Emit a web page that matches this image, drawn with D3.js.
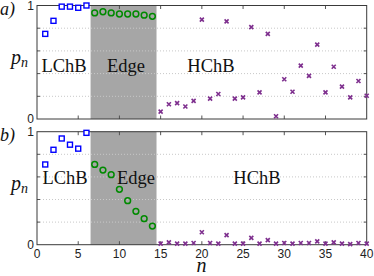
<!DOCTYPE html>
<html>
<head>
<meta charset="utf-8">
<script src="https://cdn.jsdelivr.net/npm/d3@7"></script>
<style>
body { margin: 0; background: #fff; }
svg { display: block; }
</style>
</head>
<body>
<script>
// site index n for each group
var nLChB = [1, 2, 3, 4, 5, 6];
var nEdge = [7, 8, 9, 10, 11, 12, 13, 14];
var nHChB = [15, 16, 17, 18, 19, 20, 21, 22, 23, 24, 25, 26, 27, 28, 29, 30, 31, 32, 33, 34, 35, 36, 37, 38, 39, 40];

// panel a) values p_n
var aLChB = [0.75, 0.865, 0.99, 0.99, 0.98, 1.0];
var aEdge = [0.935, 0.945, 0.935, 0.925, 0.925, 0.925, 0.915, 0.905];
var aHChB = [0.065, 0.13, 0.14, 0.11, 0.16, 0.875, 0.18, 0.22, 0.86, 0.18, 0.19, 0.81, 0.235, 0.75, 0.024, 0.35, 0.24, 0.47, 0.38, 0.655, 0.235, 0.46, 0.285, 0.19, 0.335, 0.205];

// panel b) values p_n
var bLChB = [0.71, 0.84, 0.94, 0.885, 0.85, 0.99];
var bEdge = [0.71, 0.66, 0.62, 0.49, 0.39, 0.295, 0.23, 0.165];
var bHChB = [0.01, 0.02, 0.01, 0.01, 0.015, 0.11, 0.015, 0.01, 0.085, 0.01, 0.01, 0.06, 0.01, 0.04, 0.01, 0.015, 0.01, 0.015, 0.015, 0.03, 0.01, 0.02, 0.01, 0.005, 0.015, 0.01];

var xTicks = [0, 5, 10, 15, 20, 25, 30, 35, 40];
var gridTicks = [0.2, 0.4, 0.6, 0.8];
var edgeBand = [6.5, 14.5];

var W = 374, H = 276;
var svg = d3.select('body').append('svg').attr('width', W).attr('height', H);

var x = d3.scaleLinear().domain([0, 40]).range([37, 366.7]);

var serif = "'Liberation Serif'";
var sans = "'Liberation Sans'";

function panel(top, bottom, label, lchb, edge, hchb, showX, txtY, pY, labs) {
  var y = d3.scaleLinear().domain([0, 1]).range([bottom, top]);
  var g = svg.append('g');

  // shaded edge band
  g.append('rect')
    .attr('x', x(edgeBand[0])).attr('y', y(1))
    .attr('width', x(edgeBand[1]) - x(edgeBand[0]))
    .attr('height', y(0) - y(1))
    .attr('fill', '#a6a6a6');

  // dotted grid
  g.selectAll('.grid').data(gridTicks).enter().append('line')
    .attr('x1', x(0)).attr('x2', x(40))
    .attr('y1', function(d) { return y(d); })
    .attr('y2', function(d) { return y(d); })
    .attr('stroke', '#c8c8c8').attr('stroke-width', 1)
    .attr('stroke-dasharray', '1,2');

  // ticks inside on bottom / top / left / right
  var inner = xTicks.slice(1, -1);
  g.selectAll('.tb').data(inner).enter().append('line')
    .attr('x1', function(d) { return x(d); }).attr('x2', function(d) { return x(d); })
    .attr('y1', y(0)).attr('y2', y(0) - 3.5)
    .attr('stroke', '#555');
  g.selectAll('.tt').data(inner).enter().append('line')
    .attr('x1', function(d) { return x(d); }).attr('x2', function(d) { return x(d); })
    .attr('y1', y(1)).attr('y2', y(1) + 3.5)
    .attr('stroke', '#555');
  g.selectAll('.tl').data(gridTicks).enter().append('line')
    .attr('x1', x(0)).attr('x2', x(0) + 3)
    .attr('y1', function(d) { return y(d); }).attr('y2', function(d) { return y(d); })
    .attr('stroke', '#555');
  g.selectAll('.tr').data(gridTicks).enter().append('line')
    .attr('x1', x(40)).attr('x2', x(40) - 3)
    .attr('y1', function(d) { return y(d); }).attr('y2', function(d) { return y(d); })
    .attr('stroke', '#555');

  // box
  g.append('rect')
    .attr('x', x(0)).attr('y', y(1))
    .attr('width', x(40) - x(0)).attr('height', y(0) - y(1))
    .attr('fill', 'none').attr('stroke', '#3a3a3a').attr('stroke-width', 1);

  // y tick labels
  g.selectAll('.yl').data([0, 1]).enter().append('text')
    .style('font-family', sans)
    .attr('x', x(0) - 3).attr('y', function(d) { return y(d); })
    .attr('dy', '0.35em')
    .attr('text-anchor', 'end')
    .attr('font-size', 12).attr('fill', '#222')
    .text(function(d) { return d; });

  if (showX) {
    g.selectAll('.xl').data(xTicks).enter().append('text')
      .style('font-family', sans)
      .attr('x', function(d) { return x(d); }).attr('y', y(0) + 13)
      .attr('text-anchor', 'middle')
      .attr('font-size', 12).attr('fill', '#222')
      .text(function(d) { return d; });
  }

  // region labels
  g.selectAll('.rl').data(labs).enter().append('text')
    .style('font-family', serif)
    .attr('x', function(d) { return d[1]; }).attr('y', txtY)
    .attr('text-anchor', 'middle')
    .attr('font-size', 18.5).attr('fill', '#111')
    .text(function(d) { return d[0]; });

  // p_n
  var pt = g.append('text').style('font-family', serif).attr('x', 11).attr('y', pY)
    .attr('font-style', 'italic').attr('fill', '#111');
  pt.append('tspan').attr('font-size', 20).text('p');
  pt.append('tspan').attr('font-size', 14).attr('dy', 3).text('n');

  // panel label
  g.append('text').style('font-family', serif).attr('x', 0).attr('y', top + 9)
    .attr('font-style', 'italic')
    .attr('font-size', 18).attr('fill', '#111')
    .text(label);

  // markers: LChB squares
  g.selectAll('.sq').data(d3.zip(nLChB, lchb)).enter().append('rect')
    .attr('x', function(d) { return x(d[0]) - 2.5; })
    .attr('y', function(d) { return y(d[1]) - 2.5; })
    .attr('width', 5).attr('height', 5)
    .attr('fill', '#fff').attr('stroke', '#0000ff').attr('stroke-width', 1.4);

  // Edge circles
  g.selectAll('.ci').data(d3.zip(nEdge, edge)).enter().append('circle')
    .attr('cx', function(d) { return x(d[0]); })
    .attr('cy', function(d) { return y(d[1]); })
    .attr('r', 2.9)
    .attr('fill', 'none').attr('stroke', '#008a00').attr('stroke-width', 1.5);

  // HChB crosses
  g.selectAll('.cr').data(d3.zip(nHChB, hchb)).enter().append('path')
    .attr('transform', function(d) { return 'translate(' + x(d[0]) + ',' + y(d[1]) + ')'; })
    .attr('d', 'M-2,-2L2,2M-2,2L2,-2')
    .attr('stroke', '#7e2f8e').attr('stroke-width', 1.6);
}

panel(5.5, 119, 'a)', aLChB, aEdge, aHChB, false, 71.5, 64,
  [['LChB', 64], ['Edge', 126], ['HChB', 211]]);
panel(131.7, 244.7, 'b)', bLChB, bEdge, bHChB, true, 183.5, 190,
  [['LChB', 65], ['Edge', 136], ['HChB', 257]]);

// x axis label
svg.append('text').style('font-family', serif).attr('x', 201.5).attr('y', 272)
  .attr('text-anchor', 'middle')
  .attr('font-style', 'italic')
  .attr('font-size', 20).attr('fill', '#111')
  .text('n');
</script>
</body>
</html>
